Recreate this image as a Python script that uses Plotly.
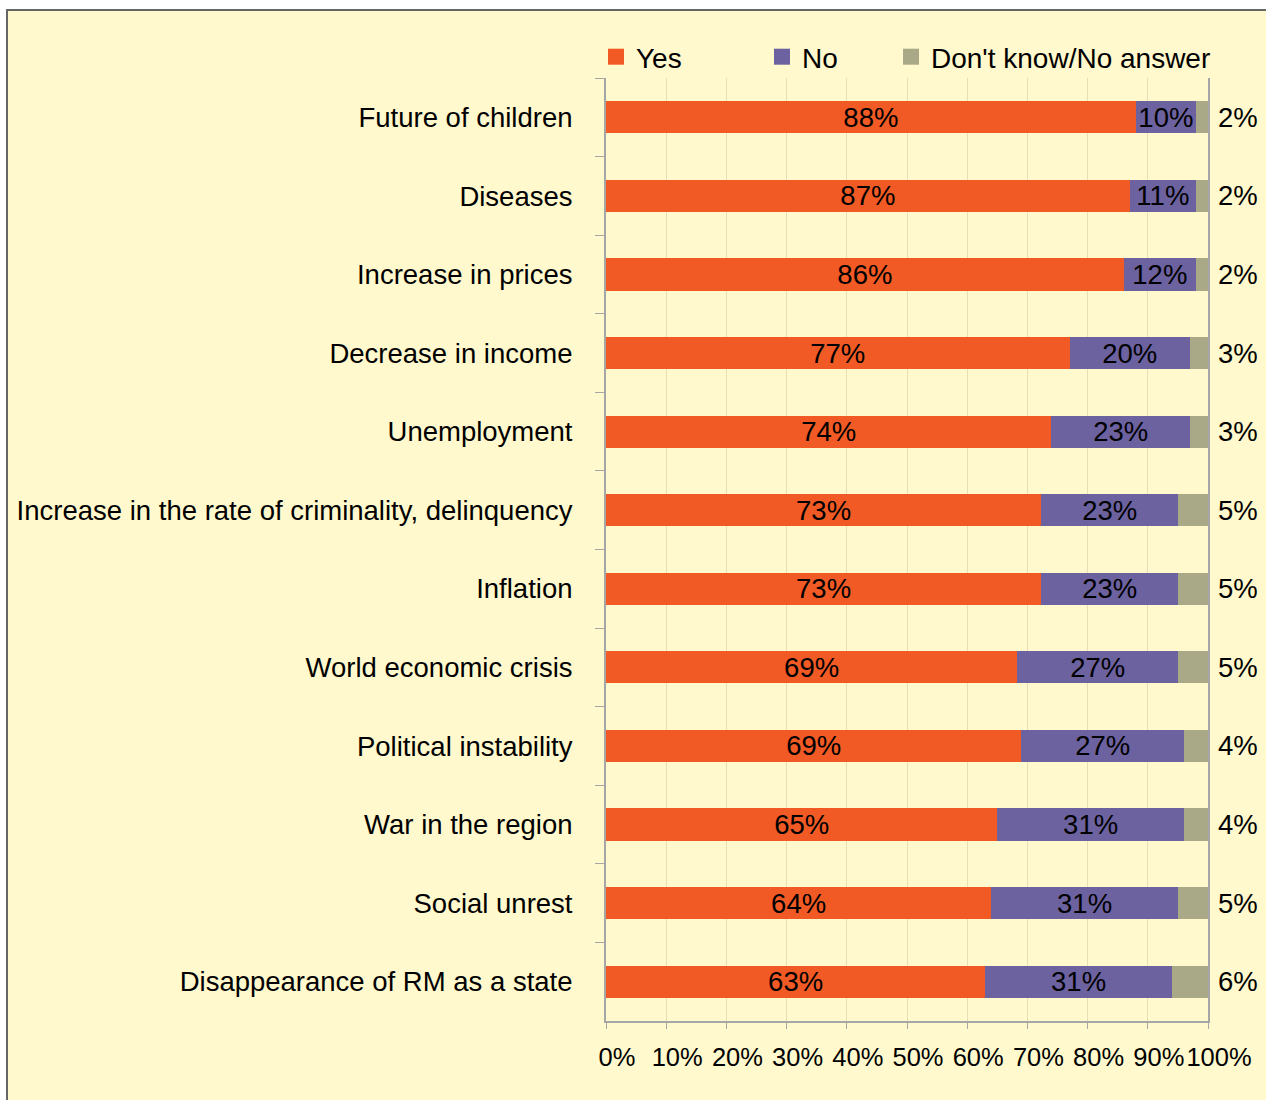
import plotly.graph_objects as go

categories = [
    "Future of children",
    "Diseases",
    "Increase in prices",
    "Decrease in income",
    "Unemployment",
    "Increase in the rate of criminality, delinquency",
    "Inflation",
    "World economic crisis",
    "Political instability",
    "War in the region",
    "Social unrest",
    "Disappearance of RM as a state",
]
yes_vals = [88, 87, 86, 77, 74, 73, 73, 69, 69, 65, 64, 63]
no_vals = [10, 11, 12, 20, 23, 23, 23, 27, 27, 31, 31, 31]
dk_vals = [2, 2, 2, 3, 3, 5, 5, 5, 4, 4, 5, 6]
x_ticks = [0, 10, 20, 30, 40, 50, 60, 70, 80, 90, 100]

FONT = "Liberation Sans, Arial, sans-serif"
W, H = 1266, 1100
L, R, T, B = 606, 58, 78, 79
BG = "#FFF9CD"
pw = W - L - R
ph = H - T - B


def px_x(p):
    return (p - L) / pw


def px_y(p):
    return (H - B - p) / ph


fig = go.Figure()
series = [
    ("Yes", yes_vals, "#F15A24", True, "legend", 607),
    ("No", no_vals, "#6C62A0", True, "legend2", 773),
    ("Don't know/No answer", dk_vals, "#AAA987", False, "legend3", 902),
]
legend_layouts = {}
for name, vals, color, show_text, leg, swatch_px in series:
    fig.add_trace(go.Bar(
        y=categories, x=vals, name=name, orientation="h",
        marker=dict(color=color, line=dict(width=0)),
        width=0.41,
        text=[f"{v}%" for v in vals] if show_text else None,
        textposition="inside" if show_text else "none",
        insidetextanchor="middle",
        textangle=0,
        constraintext="none",
        textfont=dict(family=FONT, size=27.5, color="black"),
        showlegend=False,
    ))
    # legend-only entry with a larger square swatch
    fig.add_trace(go.Scatter(
        x=[None], y=[None], mode="markers", name=name,
        marker=dict(symbol="square", size=16, color=color, line=dict(width=0)),
        legend=leg, showlegend=True, hoverinfo="skip",
    ))
    legend_layouts[leg] = dict(
        orientation="h", x=px_x(swatch_px - 11), xanchor="left",
        y=px_y(57), yanchor="middle",
        font=dict(family=FONT, size=28, color="black"),
        bgcolor="rgba(0,0,0,0)", itemsizing="trace",
    )

for cat, v in zip(categories, dk_vals):
    fig.add_annotation(
        x=100, y=cat, xref="x", yref="y", text=f"{v}%", showarrow=False,
        xanchor="left", xshift=8, font=dict(family=FONT, size=27.5, color="black"),
    )

fig.add_shape(type="rect", xref="paper", yref="paper",
              x0=px_x(7), x1=px_x(1300), y0=px_y(1150), y1=px_y(10),
              line=dict(color="#666666", width=2), fillcolor=BG, layer="below")

fig.update_layout(
    width=W, height=H,
    margin=dict(l=L, r=R, t=T, b=B, autoexpand=False),
    barmode="stack", barnorm="percent",
    paper_bgcolor="white", plot_bgcolor="rgba(0,0,0,0)",
    font=dict(family=FONT, size=27.5, color="black"),
    showlegend=True,
    xaxis=dict(range=[0, 100], tickvals=x_ticks, ticktext=[f"{t}%" for t in x_ticks],
               tickangle=0, tickfont=dict(family=FONT, size=25.5, color="black"),
               showgrid=True, gridcolor="#E4DFB4", gridwidth=1,
               showline=True, linecolor="#A6A6A6", linewidth=2,
               ticks="outside", ticklen=6, tickcolor="#A6A6A6",
               zeroline=False, fixedrange=True, ticklabelstandoff=6,
               ticklabelshift=11),
    yaxis=dict(autorange="reversed", type="category",
               tickfont=dict(family=FONT, size=27.5, color="black"),
               showline=True, linecolor="#A6A6A6", linewidth=2, mirror=True,
               ticks="outside", ticklen=9, tickcolor="#A6A6A6", tickson="boundaries",
               showgrid=False, ticklabelstandoff=26),
    **legend_layouts,
)

fig.write_html("out.html", config={"displayModeBar": False},
               post_script="document.body.style.margin='0px';document.body.style.overflow='hidden';")
